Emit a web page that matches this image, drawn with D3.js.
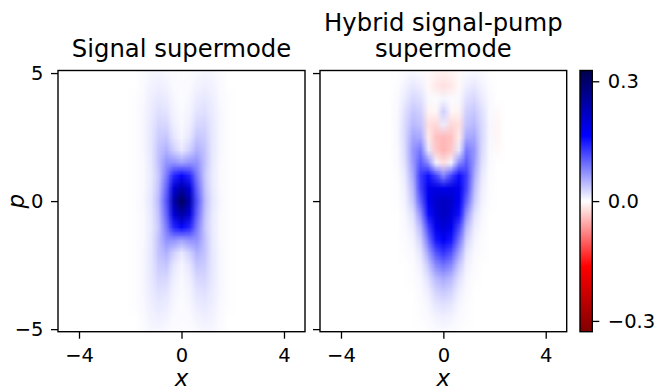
<!DOCTYPE html>
<html>
<head>
<meta charset="utf-8">
<script src="https://cdn.jsdelivr.net/npm/d3@7"></script>
<style>
  html, body { margin: 0; padding: 0; background: #fff; }
  svg { display: block; }
  svg text { font-family: "DejaVu Sans", sans-serif; fill: #000; }
  .tick line { stroke: #000; stroke-width: 1.3; }
</style>
</head>
<body>
<svg id="chart" width="657" height="389"></svg>
<script>
// Grid sample positions (phase-space x and p)
const xCols = [-2.4, -2.1, -1.8, -1.5, -1.2, -0.9, -0.6, -0.3, 0, 0.3, 0.6, 0.9, 1.2, 1.5, 1.8, 2.1, 2.4];
const pRows = [5, 4.5, 4, 3.5, 3, 2.5, 2, 1.5, 1, 0.5, 0, -0.5, -1, -1.5, -2, -2.5, -3, -3.5, -4, -4.5, -5];

// Wigner function of the signal supermode, one row per p value
const signalW = [
  [0, 0, 0, 0.002, 0.005, 0.006, 0.004, 0.002, 0.001, 0.002, 0.004, 0.006, 0.005, 0.002, 0, 0, 0],
  [0, 0, 0, 0.003, 0.008, 0.01, 0.008, 0.003, 0.002, 0.003, 0.008, 0.01, 0.008, 0.003, 0, 0, 0],
  [0, 0, 0.001, 0.004, 0.01, 0.015, 0.012, 0.005, 0.002, 0.005, 0.012, 0.015, 0.01, 0.004, 0.001, 0, 0],
  [0, 0, 0.001, 0.005, 0.012, 0.02, 0.017, 0.007, 0.003, 0.007, 0.017, 0.02, 0.012, 0.005, 0.001, 0, 0],
  [0, 0, 0.001, 0.005, 0.014, 0.026, 0.025, 0.01, 0.004, 0.01, 0.025, 0.026, 0.014, 0.005, 0.001, 0, 0],
  [0, 0, 0.001, 0.005, 0.015, 0.032, 0.036, 0.016, 0.006, 0.016, 0.036, 0.032, 0.015, 0.005, 0.001, 0, 0],
  [0, 0, 0.001, 0.005, 0.015, 0.038, 0.05, 0.03, 0.014, 0.03, 0.05, 0.038, 0.015, 0.005, 0.001, 0, 0],
  [0, 0, 0.001, 0.004, 0.014, 0.04, 0.07, 0.07, 0.06, 0.07, 0.07, 0.04, 0.014, 0.004, 0.001, 0, 0],
  [0, 0, 0.001, 0.004, 0.013, 0.035, 0.085, 0.14, 0.16, 0.14, 0.085, 0.035, 0.013, 0.004, 0.001, 0, 0],
  [0, 0, 0.001, 0.004, 0.014, 0.04, 0.1, 0.2, 0.25, 0.2, 0.1, 0.04, 0.014, 0.004, 0.001, 0, 0],
  [0, 0, 0.001, 0.005, 0.016, 0.045, 0.11, 0.24, 0.31, 0.24, 0.11, 0.045, 0.016, 0.005, 0.001, 0, 0],
  [0, 0, 0.001, 0.004, 0.014, 0.04, 0.1, 0.2, 0.25, 0.2, 0.1, 0.04, 0.014, 0.004, 0.001, 0, 0],
  [0, 0, 0.001, 0.004, 0.013, 0.035, 0.085, 0.14, 0.16, 0.14, 0.085, 0.035, 0.013, 0.004, 0.001, 0, 0],
  [0, 0, 0.001, 0.004, 0.014, 0.04, 0.07, 0.07, 0.06, 0.07, 0.07, 0.04, 0.014, 0.004, 0.001, 0, 0],
  [0, 0, 0.001, 0.005, 0.015, 0.038, 0.05, 0.03, 0.014, 0.03, 0.05, 0.038, 0.015, 0.005, 0.001, 0, 0],
  [0, 0, 0.001, 0.005, 0.015, 0.032, 0.036, 0.016, 0.006, 0.016, 0.036, 0.032, 0.015, 0.005, 0.001, 0, 0],
  [0, 0, 0.001, 0.005, 0.014, 0.026, 0.025, 0.01, 0.004, 0.01, 0.025, 0.026, 0.014, 0.005, 0.001, 0, 0],
  [0, 0, 0.001, 0.005, 0.012, 0.02, 0.017, 0.007, 0.003, 0.007, 0.017, 0.02, 0.012, 0.005, 0.001, 0, 0],
  [0, 0, 0.001, 0.004, 0.01, 0.015, 0.012, 0.005, 0.002, 0.005, 0.012, 0.015, 0.01, 0.004, 0.001, 0, 0],
  [0, 0, 0, 0.003, 0.008, 0.01, 0.008, 0.003, 0.002, 0.003, 0.008, 0.01, 0.008, 0.003, 0, 0, 0],
  [0, 0, 0, 0.002, 0.005, 0.006, 0.004, 0.002, 0.001, 0.002, 0.004, 0.006, 0.005, 0.002, 0, 0, 0],
];

// Wigner function of the hybrid signal-pump supermode
const hybridW = [
  [0, 0, 0, 0.003, 0.005, 0.003, -0.003, -0.008, -0.01, -0.008, -0.003, 0.003, 0.005, 0.003, 0, 0, 0],
  [0, 0, 0.002, 0.008, 0.015, 0.01, -0.004, -0.015, -0.02, -0.015, -0.004, 0.01, 0.015, 0.008, 0.002, 0, 0],
  [0, 0, 0.003, 0.013, 0.025, 0.02, 0.004, 0.002, 0.006, 0.002, 0.004, 0.02, 0.025, 0.013, 0.003, 0, 0],
  [0, 0, 0.004, 0.02, 0.035, 0.03, -0.008, -0.006, 0.03, -0.006, -0.008, 0.03, 0.035, 0.02, 0.004, -0.003, 0],
  [0, 0, 0.005, 0.024, 0.045, 0.038, -0.02, -0.025, 0.012, -0.025, -0.02, 0.038, 0.045, 0.024, 0.005, -0.006, 0],
  [0, 0, 0.005, 0.025, 0.058, 0.055, -0.012, -0.04, -0.045, -0.04, -0.012, 0.055, 0.058, 0.025, 0.005, -0.006, 0],
  [0, 0, 0.004, 0.024, 0.068, 0.085, 0.015, -0.035, -0.048, -0.035, 0.015, 0.085, 0.068, 0.024, 0.004, -0.003, 0],
  [0, 0, 0.003, 0.02, 0.065, 0.105, 0.075, 0.008, -0.02, 0.008, 0.075, 0.105, 0.065, 0.02, 0.003, 0, 0],
  [0, 0, 0.002, 0.014, 0.055, 0.125, 0.155, 0.12, 0.08, 0.12, 0.155, 0.125, 0.055, 0.014, 0.002, 0, 0],
  [0, 0, 0.001, 0.01, 0.045, 0.12, 0.18, 0.19, 0.18, 0.19, 0.18, 0.12, 0.045, 0.01, 0.001, 0, 0],
  [0, 0, 0.001, 0.008, 0.035, 0.1, 0.175, 0.21, 0.22, 0.21, 0.175, 0.1, 0.035, 0.008, 0.001, 0, 0],
  [0, 0, 0, 0.005, 0.02, 0.07, 0.155, 0.2, 0.22, 0.2, 0.155, 0.07, 0.02, 0.005, 0, 0, 0],
  [0, 0, 0, 0.003, 0.012, 0.045, 0.12, 0.18, 0.2, 0.18, 0.12, 0.045, 0.012, 0.003, 0, 0, 0],
  [0, 0, 0, 0.002, 0.007, 0.028, 0.09, 0.15, 0.17, 0.15, 0.09, 0.028, 0.007, 0.002, 0, 0, 0],
  [0, 0, 0, 0.001, 0.004, 0.016, 0.06, 0.11, 0.13, 0.11, 0.06, 0.016, 0.004, 0.001, 0, 0, 0],
  [0, 0, 0, 0, 0.002, 0.009, 0.035, 0.075, 0.09, 0.075, 0.035, 0.009, 0.002, 0, 0, 0, 0],
  [0, 0, 0, 0, 0.001, 0.005, 0.02, 0.045, 0.055, 0.045, 0.02, 0.005, 0.001, 0, 0, 0, 0],
  [0, 0, 0, 0, 0, 0.003, 0.011, 0.028, 0.035, 0.028, 0.011, 0.003, 0, 0, 0, 0, 0],
  [0, 0, 0, 0, 0, 0.002, 0.006, 0.016, 0.02, 0.016, 0.006, 0.002, 0, 0, 0, 0, 0],
  [0, 0, 0, 0, 0, 0.001, 0.003, 0.008, 0.01, 0.008, 0.003, 0.001, 0, 0, 0, 0, 0],
  [0, 0, 0, 0, 0, 0, 0.001, 0.003, 0.004, 0.003, 0.001, 0, 0, 0, 0, 0, 0],
];

const panelTitles = [["Signal supermode"], ["Hybrid signal-pump", "supermode"]];
const xTicks = [-4, 0, 4];
const pTicks = [-5, 0, 5];
const cbarTicks = [-0.3, 0, 0.3];
const xDomain = [-4.82, 4.82];
const pDomain = [-5.1, 5.1];
const vLimit = 0.327;

const TICK_FONT = 19.5;
const TITLE_FONT = 24.3;
const LABEL_FONT = 23;

const svg = d3.select("#chart");

// seismic_r: negative -> dark red, zero -> white, positive -> dark blue
const color = d3.scaleLinear()
  .domain([-vLimit, -vLimit / 2, 0, vLimit / 2, vLimit])
  .range(["#800000", "#ff0000", "#ffffff", "#0000ff", "#00004d"])
  .interpolate(d3.interpolateRgb)
  .clamp(true);

const panels = [
  { left: 58, right: 305, data: signalW, showY: true },
  { left: 320, right: 566.7, data: hybridW, showY: false },
];
const axTop = 70.5, axBottom = 331.7;

const yScale = d3.scaleLinear().domain(pDomain).range([axBottom, axTop]);

function gridImage(values) {
  const canvas = document.createElement("canvas");
  canvas.width = xCols.length;
  canvas.height = pRows.length;
  const ctx = canvas.getContext("2d");
  const img = ctx.createImageData(canvas.width, canvas.height);
  values.forEach((row, j) => {
    row.forEach((v, i) => {
      const c = d3.rgb(color(v));
      const k = (j * canvas.width + i) * 4;
      img.data[k] = c.r;
      img.data[k + 1] = c.g;
      img.data[k + 2] = c.b;
      img.data[k + 3] = 255;
    });
  });
  ctx.putImageData(img, 0, 0);
  return canvas.toDataURL();
}

function styleTicks(axisG) {
  axisG.attr("font-family", null).attr("font-size", null);
  axisG.select(".domain").remove();
  axisG.selectAll("text").style("font-size", `${TICK_FONT}px`);
}

panels.forEach((panel, idx) => {
  const xScale = d3.scaleLinear().domain(xDomain).range([panel.left, panel.right]);
  const g = svg.append("g");

  g.append("clipPath").attr("id", `clip${idx}`)
    .append("rect")
    .attr("x", panel.left).attr("y", axTop)
    .attr("width", panel.right - panel.left).attr("height", axBottom - axTop);

  g.append("rect")
    .attr("x", panel.left).attr("y", axTop)
    .attr("width", panel.right - panel.left).attr("height", axBottom - axTop)
    .attr("fill", "#ffffff");

  const dx = (xCols[1] - xCols[0]) / 2;
  const dp = (pRows[0] - pRows[1]) / 2;
  const x0 = xScale(xCols[0] - dx), x1 = xScale(xCols[xCols.length - 1] + dx);
  const y0 = yScale(pRows[0] + dp), y1 = yScale(pRows[pRows.length - 1] - dp);

  g.append("image")
    .attr("clip-path", `url(#clip${idx})`)
    .attr("href", gridImage(panel.data))
    .attr("x", x0).attr("y", y0)
    .attr("width", x1 - x0).attr("height", y1 - y0)
    .attr("preserveAspectRatio", "none")
    .style("image-rendering", "auto");

  // axes
  const xAxis = g.append("g")
    .attr("transform", `translate(0,${axBottom})`)
    .call(d3.axisBottom(xScale).tickValues(xTicks).tickSize(7).tickFormat(d3.format("d")));
  styleTicks(xAxis);
  xAxis.selectAll("text").attr("dy", null).attr("y", 30.8);

  const yAxis = g.append("g")
    .attr("transform", `translate(${panel.left},0)`)
    .call(d3.axisLeft(yScale).tickValues(pTicks).tickSize(7).tickPadding(7.5).tickFormat(d3.format("d")));
  styleTicks(yAxis);
  if (!panel.showY) yAxis.selectAll("text").remove();

  g.append("rect")
    .attr("x", panel.left).attr("y", axTop)
    .attr("width", panel.right - panel.left).attr("height", axBottom - axTop)
    .attr("fill", "none").attr("stroke", "#000").attr("stroke-width", 1.4);

  // title
  const cx = (panel.left + panel.right) / 2;
  const lines = panelTitles[idx];
  lines.forEach((line, k) => {
    g.append("text")
      .attr("x", cx)
      .attr("y", 57.2 - (lines.length - 1 - k) * 26)
      .attr("text-anchor", "middle")
      .style("font-size", `${TITLE_FONT}px`)
      .text(line);
  });

  // x label
  g.append("text")
    .attr("x", cx).attr("y", 386)
    .attr("text-anchor", "middle")
    .style("font-size", `${LABEL_FONT}px`)
    .style("font-style", "italic")
    .text("x");
});

// p label
svg.append("text")
  .attr("transform", `translate(24,${yScale(0)}) rotate(-90)`)
  .attr("text-anchor", "middle")
  .style("font-size", `${LABEL_FONT}px`)
  .style("font-style", "italic")
  .text("p");

// colorbar
const cbLeft = 580, cbRight = 592.3;
const cScale = d3.scaleLinear().domain([-vLimit, vLimit]).range([axBottom, axTop]);
const grad = svg.append("defs").append("linearGradient")
  .attr("id", "cbar").attr("x1", 0).attr("y1", 1).attr("x2", 0).attr("y2", 0);
color.domain().forEach((v) => {
  grad.append("stop")
    .attr("offset", (v + vLimit) / (2 * vLimit))
    .attr("stop-color", color(v));
});
svg.append("rect")
  .attr("x", cbLeft).attr("y", axTop)
  .attr("width", cbRight - cbLeft).attr("height", axBottom - axTop)
  .attr("fill", "url(#cbar)")
  .attr("stroke", "#000").attr("stroke-width", 1.4);

const cAxis = svg.append("g")
  .attr("transform", `translate(${cbRight},0)`)
  .call(d3.axisRight(cScale).tickValues(cbarTicks).tickSize(7).tickPadding(8.5).tickFormat(d3.format(".1f")));
styleTicks(cAxis);
</script>
</body>
</html>
